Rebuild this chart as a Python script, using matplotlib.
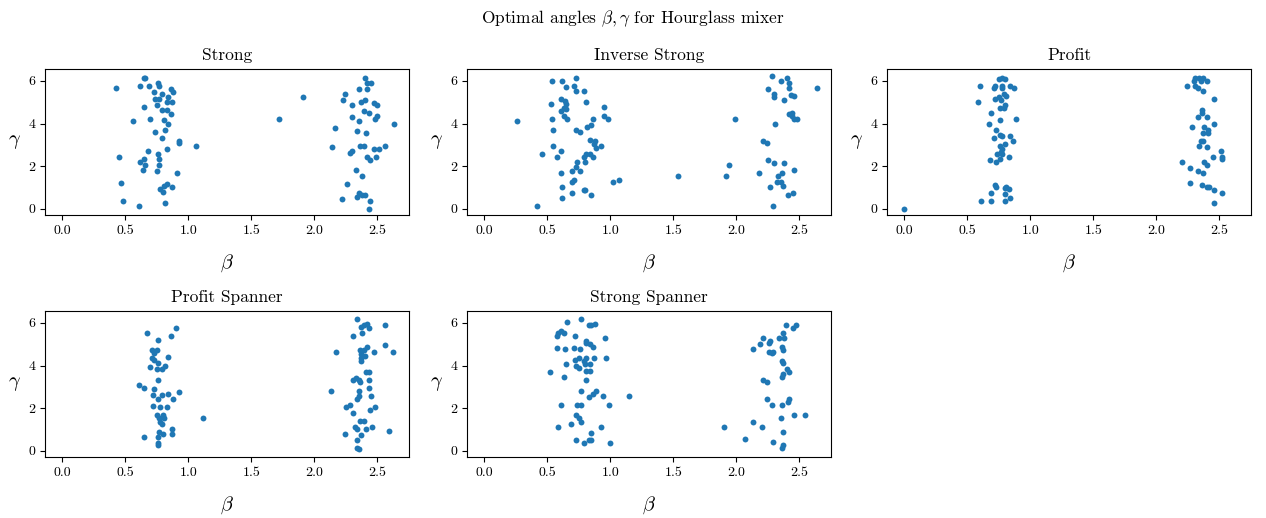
import matplotlib
matplotlib.use("Agg")
import matplotlib.pyplot as plt
import numpy as np

plt.rcParams['font.family'] = 'serif'
plt.rcParams['font.serif'] = ['cmr10', 'DejaVu Serif']
plt.rcParams['mathtext.fontset'] = 'cm'
plt.rcParams['axes.formatter.use_mathtext'] = True

titles = ["Strong", "Inverse Strong", "Profit", "Profit Spanner", "Strong Spanner"]

strong_beta = [0.43, 0.65, 0.66, 0.62, 0.69, 0.76, 0.77, 0.73, 0.79, 0.86, 0.88, 0.74, 0.77, 0.84, 0.83, 0.87,
               0.75, 0.65, 0.79, 0.83, 0.86, 0.70, 0.56, 0.81, 0.84, 0.82, 0.74, 0.79, 0.93, 0.93, 1.06, 0.83,
               0.68, 0.76, 0.77, 0.45, 0.65, 0.62, 0.66, 0.77, 0.64, 0.75, 0.91, 0.47, 0.83, 0.81, 0.87, 0.78,
               0.80, 0.48, 0.61, 0.82,
               1.91, 1.72, 2.40, 2.35, 2.42, 2.45, 2.42, 2.24, 2.23, 2.40, 2.30, 2.37, 2.47, 2.50, 2.39, 2.43,
               2.50, 2.48, 2.30, 2.35, 2.63, 2.16, 2.34, 2.41, 2.14, 2.36, 2.39, 2.28, 2.30, 2.47, 2.51, 2.56,
               2.42, 2.44, 2.49, 2.33, 2.38, 2.26, 2.35, 2.34, 2.38, 2.40, 2.22, 2.44, 2.43]
strong_gamma = [5.65, 6.16, 6.14, 5.77, 5.75, 5.89, 5.77, 5.46, 5.41, 5.63, 5.49, 5.15, 5.13, 5.24, 4.99, 4.99,
                4.88, 4.77, 4.62, 4.62, 4.46, 4.21, 4.10, 4.15, 3.98, 3.70, 3.59, 3.33, 3.19, 3.08, 2.94, 2.83,
                2.69, 2.57, 2.32, 2.44, 2.32, 2.18, 2.04, 2.05, 1.84, 1.79, 1.66, 1.21, 1.17, 1.06, 1.03, 0.92,
                0.81, 0.39, 0.14, 0.25,
                5.26, 4.23, 6.13, 5.63, 5.89, 5.89, 5.63, 5.38, 5.12, 5.12, 4.87, 4.99, 4.95, 4.87, 4.60, 4.48,
                4.37, 4.21, 4.31, 4.11, 3.97, 3.78, 3.64, 3.58, 2.91, 2.95, 2.95, 2.63, 2.69, 2.82, 2.82, 2.94,
                2.41, 2.30, 2.43, 1.80, 1.54, 1.15, 0.76, 0.54, 0.65, 0.64, 0.45, 0.37, 0.00]

inv_beta = [0.26, 0.42, 0.46, 0.54, 0.62, 0.73, 0.65, 0.71, 0.73, 0.79, 0.53, 0.61, 0.64, 0.65, 0.81, 0.61,
            0.63, 0.65, 0.95, 0.54, 0.63, 0.66, 0.95, 0.98, 0.86, 0.55, 0.73, 0.76, 0.82, 0.85, 0.84, 0.88,
            0.87, 0.89, 0.93, 0.55, 0.61, 0.58, 0.81, 0.79, 0.84, 0.86, 0.74, 0.80, 0.73, 0.70, 0.76, 0.61,
            0.71, 0.70, 1.02, 1.07, 0.62, 0.79, 0.80, 0.70, 0.85, 0.62,
            1.54, 1.99, 1.94, 1.92,
            2.28, 2.35, 2.40, 2.42, 2.42, 2.25, 2.64, 2.30, 2.30, 2.38, 2.43, 2.46, 2.42, 2.44, 2.44, 2.46,
            2.48, 2.31, 2.21, 2.24, 2.25, 2.30, 2.38, 2.46, 2.18, 2.36, 2.33, 2.32, 2.35, 2.27, 2.37, 2.41,
            2.45, 2.29]
inv_gamma = [4.11, 0.14, 2.57, 6.02, 6.02, 6.14, 5.71, 5.75, 5.55, 5.54, 4.93, 5.16, 5.05, 4.91, 4.99, 4.59,
             4.73, 4.67, 4.76, 4.23, 4.35, 4.23, 4.37, 4.21, 4.23, 3.72, 3.72, 3.59, 3.84, 3.95, 3.22, 3.17,
             3.03, 2.85, 2.94, 2.94, 2.71, 2.44, 2.57, 2.44, 2.55, 2.44, 2.18, 2.18, 1.96, 1.79, 1.79, 1.66,
             1.35, 1.26, 1.28, 1.35, 1.03, 0.90, 0.89, 0.76, 0.64, 0.51,
             1.54, 4.21, 2.05, 1.54,
             6.25, 6.02, 6.16, 5.89, 5.65, 5.63, 5.65, 5.40, 5.24, 5.12, 5.32, 5.27, 4.46, 4.51, 4.34, 4.23,
             4.23, 3.97, 3.20, 3.08, 2.30, 2.13, 2.13, 1.84, 1.66, 1.66, 1.52, 1.28, 1.28, 1.03, 1.06, 0.65,
             0.76, 0.14]

profit_beta = [0.00,
               0.60, 0.59, 0.67, 0.69, 0.71, 0.68, 0.73, 0.74, 0.61, 0.69, 0.69, 0.72, 0.73, 0.75, 0.78, 0.80,
               0.71, 0.72, 0.78, 0.78, 0.84, 0.87, 0.79, 0.81, 0.72, 0.75, 0.77, 0.80, 0.79, 0.76, 0.89, 0.76,
               0.73, 0.76, 0.78, 0.84, 0.86, 0.80, 0.76, 0.78, 0.77, 0.78, 0.83, 0.76, 0.80, 0.81, 0.83, 0.80,
               0.84, 0.80,
               2.24, 2.31, 2.34, 2.37, 2.30, 2.35, 2.40, 2.31, 2.33, 2.37, 2.46, 2.36, 2.36, 2.33, 2.40, 2.46,
               2.28, 2.38, 2.37, 2.41, 2.41, 2.35, 2.37, 2.34, 2.40, 2.51, 2.52, 2.52, 2.45, 2.20, 2.38, 2.40,
               2.27, 2.33, 2.37, 2.27, 2.36, 2.40, 2.42, 2.46, 2.52, 2.46]
profit_gamma = [0.00,
                5.77, 4.99, 3.97, 4.48, 3.30, 2.30, 2.18, 2.55, 0.39, 0.39, 0.76, 1.10, 1.03, 6.08, 6.16, 6.10,
                5.65, 5.77, 5.77, 5.65, 5.75, 5.65, 5.40, 5.27, 5.13, 5.24, 5.12, 4.87, 4.73, 4.74, 4.23, 4.18,
                3.72, 3.47, 3.41, 3.42, 3.20, 3.06, 2.94, 2.83, 2.67, 2.57, 2.44, 2.32, 0.98, 1.03, 0.92, 0.68,
                0.51, 0.39,
                5.77, 6.16, 6.16, 6.16, 6.02, 5.99, 6.02, 5.77, 5.65, 5.51, 5.13, 4.62, 4.48, 4.31, 4.31, 3.97,
                3.84, 3.84, 3.58, 3.70, 3.58, 3.20, 3.20, 2.94, 2.91, 2.69, 2.44, 2.32, 2.44, 2.18, 2.18, 2.04,
                1.91, 1.76, 1.66, 1.20, 1.12, 1.03, 1.01, 0.90, 0.76, 0.26]

pspan_beta = [0.67, 0.90, 0.86, 0.76, 0.71, 0.75, 0.73, 0.71, 0.73, 0.76, 0.84, 0.70, 0.75, 0.79, 0.82, 0.76,
              0.61, 0.65, 0.73, 0.72, 0.79, 0.84, 0.93, 0.76, 0.88, 0.72, 0.78, 0.83, 0.75, 0.80, 0.81, 0.77,
              0.78, 0.79, 1.12, 0.87, 0.77, 0.80, 0.87, 0.65, 0.76, 0.76, 0.76,
              2.34, 2.56, 2.37, 2.39, 2.42, 2.43, 2.38, 2.31, 2.56, 2.17, 2.47, 2.62, 2.36, 2.39, 2.42, 2.37,
              2.37, 2.37, 2.40, 2.41, 2.43, 2.31, 2.33, 2.35, 2.36, 2.43, 2.13, 2.35, 2.43, 2.35, 2.34, 2.45,
              2.25, 2.28, 2.48, 2.44, 2.31, 2.36, 2.39, 2.32, 2.34, 2.41, 2.46, 2.59, 2.24, 2.37, 2.34, 2.34,
              2.35]
pspan_gamma = [5.52, 5.77, 5.41, 5.20, 4.75, 4.75, 4.61, 4.36, 4.25, 4.13, 4.38, 3.95, 3.84, 3.84, 3.97, 3.34,
               3.09, 2.94, 2.88, 2.64, 2.64, 2.67, 2.75, 2.44, 2.44, 2.09, 2.06, 2.06, 1.67, 1.69, 1.55, 1.52,
               1.34, 1.28, 1.55, 1.03, 0.89, 0.77, 0.77, 0.63, 0.67, 0.39, 0.25,
               6.17, 5.91, 5.83, 5.91, 5.97, 5.78, 5.53, 5.38, 4.95, 4.63, 4.63, 4.63, 4.75, 4.75, 4.86, 4.52,
               4.36, 4.23, 4.45, 3.69, 3.69, 3.34, 3.41, 3.34, 3.22, 3.34, 2.83, 2.83, 2.95, 2.55, 2.45, 2.56,
               2.06, 2.13, 2.06, 1.92, 1.78, 1.41, 1.41, 1.11, 1.03, 1.03, 1.14, 0.91, 0.78, 0.73, 0.52, 0.14,
               0.09]

sspan_beta = [0.52, 0.58, 0.59, 0.61, 0.63, 0.58, 0.64, 0.66, 0.77, 0.72, 0.71, 0.76, 0.81, 0.81, 0.84, 0.86,
              0.83, 0.85, 0.88, 0.96, 0.65, 0.72, 0.73, 0.75, 0.75, 0.79, 0.81, 0.80, 0.84, 0.87, 0.97, 0.81,
              0.84, 0.81, 0.63, 0.77, 0.89, 0.86, 0.83, 0.94, 1.15, 0.61, 0.74, 0.77, 0.99, 0.73, 0.75, 0.77,
              0.69, 0.59, 0.93, 0.85, 0.73, 0.83, 0.85, 0.79, 1.00,
              1.90, 2.07, 2.13, 2.13, 2.19, 2.21, 2.26, 2.27, 2.26, 2.28, 2.29, 2.21, 2.24, 2.24, 2.28, 2.20,
              2.29, 2.34, 2.37, 2.38, 2.39, 2.36, 2.37, 2.36, 2.37, 2.40, 2.42, 2.37, 2.36, 2.36, 2.41, 2.42,
              2.35, 2.46, 2.54, 2.37, 2.37, 2.36, 2.45, 2.47]
sspan_gamma = [3.72, 5.41, 5.52, 5.62, 5.53, 4.83, 4.77, 6.03, 6.17, 5.41, 4.83, 4.80, 5.14, 5.05, 5.03, 4.89,
               5.91, 5.91, 5.95, 5.27, 4.08, 4.25, 4.00, 3.89, 4.34, 4.22, 4.36, 4.09, 4.08, 4.36, 4.36, 3.73,
               3.73, 3.34, 3.47, 2.83, 2.83, 2.67, 2.52, 2.56, 2.56, 2.14, 2.17, 2.17, 2.17, 1.67, 1.55, 1.36,
               1.28, 1.14, 1.14, 0.83, 0.52, 0.52, 0.52, 0.38, 0.38,
               1.14, 0.55, 1.36, 4.80, 5.02, 5.27, 5.05, 5.14, 4.63, 4.61, 4.63, 3.34, 3.22, 2.44, 2.17, 1.14,
               0.42, 5.27, 5.53, 5.27, 5.92, 4.86, 4.75, 4.23, 4.14, 3.84, 3.72, 3.61, 3.47, 2.17, 2.30, 2.42,
               1.55, 1.69, 1.69, 0.89, 0.27, 0.14, 5.78, 5.91]

betas = [strong_beta, inv_beta, profit_beta, pspan_beta, sspan_beta]
gammas = [strong_gamma, inv_gamma, profit_gamma, pspan_gamma, sspan_gamma]

W, H = 1266, 518
fig = plt.figure(figsize=(W / 100, H / 100), dpi=100)
lefts = [45, 467, 887]
tops = [69, 311]
aw, ah = 364, 146

for i in range(5):
    r, c = divmod(i, 3)
    ax = fig.add_axes([lefts[c] / W, 1 - (tops[r] + ah) / H, aw / W, ah / H])
    ax.scatter(betas[i], gammas[i], s=18, color='#1f77b4', linewidths=0)
    ax.set_xlim(-0.135, 2.75)
    ax.set_ylim(-0.29, 6.56)
    ax.set_xticks([0.0, 0.5, 1.0, 1.5, 2.0, 2.5])
    ax.set_xticklabels(["0.0", "0.5", "1.0", "1.5", "2.0", "2.5"])
    ax.set_yticks([0, 2, 4, 6])
    ax.set_yticklabels(["0", "2", "4", "6"])
    ax.tick_params(labelsize=10)
    ax.set_title(titles[i], fontsize=12.5, pad=6.5)
    ax.set_xlabel(r'$\beta$', fontsize=14.5, labelpad=11)
    ax.set_ylabel(r'$\gamma$', fontsize=14.5, rotation=0, labelpad=10, va='center')

fig.suptitle(r'Optimal angles $\beta,\gamma$ for Hourglass mixer', fontsize=12.5, y=0.983)
fig.savefig('out.png', dpi=100)
